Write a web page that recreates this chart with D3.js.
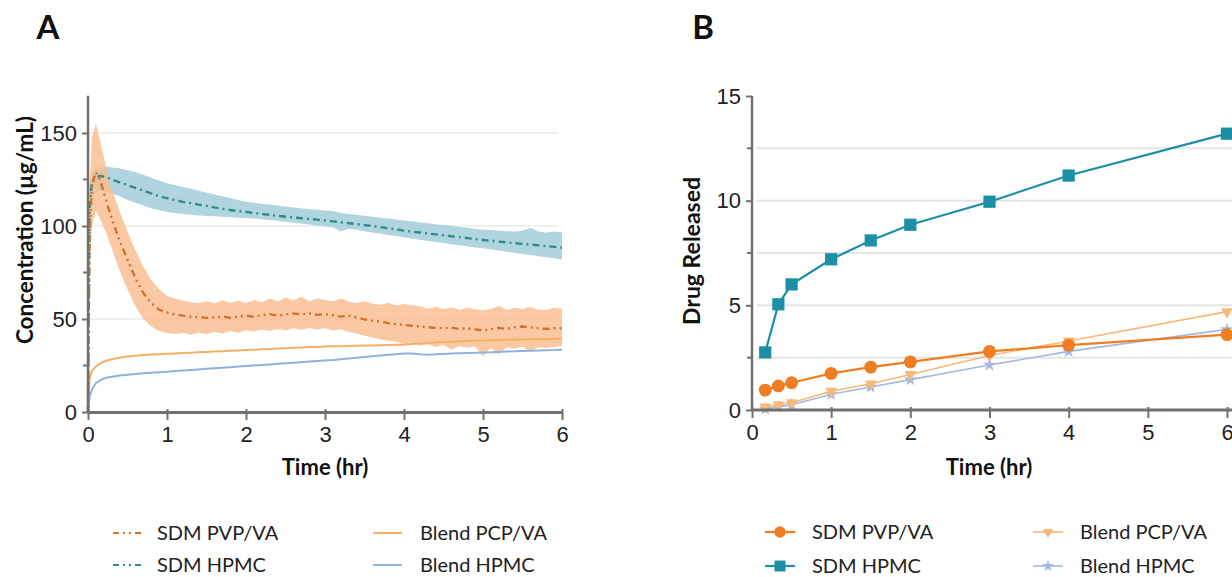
<!DOCTYPE html>
<html lang="en">
<head>
<meta charset="UTF-8">
<title>Concentration and drug release</title>
<script src="https://cdn.jsdelivr.net/npm/d3@7"></script>
<style>
  body { margin: 0; background: #fff; }
  svg { display: block; font-family: Lato, "Open Sans", sans-serif; }
  .tick text { font-size: 22px; fill: #222; font-weight: 300; }
  .axis path, .axis line { stroke: #707070; }
  .lbl { font-weight: bold; fill: #111; }
  .leg { font-size: 20px; fill: #222; }
</style>
</head>
<body>
<div id="chart"></div>
<script>
// ---------- panel A: concentration over time ----------
var timeA = [0, 0.02, 0.05, 0.1, 0.15, 0.2, 0.25, 0.3, 0.4, 0.5, 0.6, 0.7, 0.8, 0.9, 1.0,
  1.1, 1.2, 1.3, 1.4, 1.5, 1.6, 1.7, 1.8, 1.9, 2.0,
  2.1, 2.2, 2.3, 2.4, 2.5, 2.6, 2.7, 2.8, 2.9, 3.0,
  3.1, 3.2, 3.3, 3.4, 3.5, 3.6, 3.7, 3.8, 3.9, 4.0,
  4.1, 4.2, 4.3, 4.4, 4.5, 4.6, 4.7, 4.8, 4.9, 5.0,
  5.1, 5.2, 5.3, 5.4, 5.5, 5.6, 5.7, 5.8, 5.9, 6.0];

var sdmHpmcMean = [0, 110, 124, 126, 127, 126.5, 126, 125, 123.5, 122, 120.5, 119, 117.5, 116, 115,
  114, 113, 112.3, 111.5, 110.8, 110, 109.3, 108.6, 108, 107.5,
  107, 106.4, 106, 105.5, 105, 104.6, 104.2, 103.8, 103.4, 103,
  102.5, 102, 101.5, 101, 100.5, 100, 99.4, 98.8, 98.2, 97.5,
  97, 96.5, 96, 95.5, 95, 94.5, 94, 93.5, 93, 92.5,
  92, 91.6, 91.2, 90.8, 90.4, 90, 89.6, 89.2, 88.8, 88.3];
var sdmHpmcHi = [0, 122, 129, 131, 131.5, 132, 132, 131.5, 131, 130, 129, 127.5, 126, 124.5, 123,
  122, 121, 120, 119, 118, 117, 116, 115, 114, 113,
  112.5, 112, 111.5, 111, 110.5, 110, 109.5, 109, 108.7, 108.4,
  108, 107, 106.5, 106, 105.5, 105, 104.5, 104, 103.5, 103,
  102.5, 102, 101.5, 101, 100.5, 100, 99.5, 99, 98.5, 98,
  97.8, 97.5, 97.2, 97, 97.5, 99, 97, 96.5, 97, 96.5];
var sdmHpmcLo = [0, 96, 114, 118, 119.5, 119, 118.5, 117.5, 116, 114, 112.5, 111, 109.5, 108.5, 107.5,
  107, 106.5, 106, 105.7, 105.4, 105.2, 105, 104.8, 104.5, 104.3,
  104, 103.6, 103.2, 102.8, 102.3, 101.8, 101.3, 100.8, 100.3, 99.8,
  99.3, 97, 98.5, 98, 97.2, 96.5, 95.8, 95.2, 94.6, 94,
  93.3, 92.6, 92, 91.4, 90.8, 90.2, 89.6, 89, 88.5, 88,
  87.4, 86.8, 86.2, 85.6, 85, 84.4, 83.8, 83.2, 82.6, 82];

var sdmPvpMean = [0, 95, 122, 129, 125, 118, 111, 104, 92, 82, 72, 64, 58.5, 55, 53.5,
  52.5, 51.8, 51.2, 51, 50.6, 50.8, 51.5, 50.6, 51.3, 51.8,
  51.2, 52, 52.6, 51.8, 52.4, 53, 52.5, 53, 52.2, 52.6,
  52, 51.3, 51.8, 50.8, 49.8, 49, 48.6, 47.8, 47.2, 46.8,
  46.4, 46, 45.6, 45.2, 45, 45.4, 44.6, 45, 44.4, 43.8,
  44.5, 45.2, 44.6, 45.6, 46, 45.5, 45, 44.6, 45, 45];
var sdmPvpHi = [0, 120, 148, 155, 146, 137, 128, 120, 108, 97, 87, 78, 71, 66, 62.5,
  61, 60, 59, 58.5, 59.5, 58.5, 60, 58.8, 59.8, 58.6,
  60.2, 59, 61, 59.4, 61.5, 60, 62, 59.6, 61, 60.2,
  59.5, 61, 59.4, 58.5, 59.6, 58.2, 57.6, 58.8, 57.2, 58,
  57.4, 56.8, 55.5, 56.5, 55.4, 56.2, 55, 56, 55.2, 54.6,
  55.4, 57, 54.8, 56, 55.2, 56.5, 55, 54.8, 56, 55.5];
var sdmPvpLo = [0, 75, 100, 108, 104, 99, 94, 88, 76, 66, 57, 50, 46, 43.5, 42.5,
  42, 42.5, 41.5, 42.6, 41.8, 43, 42.2, 43.5, 42.6, 44,
  43.2, 44.4, 43.5, 44.6, 44, 45, 44.2, 45.2, 44.4, 45,
  43.8, 44.5, 43, 42.2, 41, 40, 39, 38.4, 37.8, 36.5,
  37.2, 35.8, 36.5, 35, 36, 33.5, 35.5, 34.6, 35.2, 30,
  34.6, 31, 35, 34, 35.2, 32, 35, 34.4, 35, 35.5];

var blendPvpA = [0, 18, 22, 24.5, 26, 27, 27.8, 28.4, 29.2, 29.8, 30.2, 30.6, 30.9, 31.1, 31.3,
  31.5, 31.7, 31.9, 32.1, 32.3, 32.5, 32.7, 32.9, 33.1, 33.3,
  33.5, 33.7, 33.9, 34.1, 34.3, 34.5, 34.7, 34.9, 35.0, 35.2,
  35.3, 35.4, 35.5, 35.6, 35.7, 35.8, 35.9, 36.0, 36.1, 36.2,
  36.5, 36.8, 37, 37.3, 37.6, 37.8, 38, 38.2, 38.4, 38.5,
  38.6, 38.7, 38.8, 38.9, 39, 39.1, 39.2, 39.3, 39.4, 39.5];
var blendHpmcA = [0, 8, 12, 15.5, 17, 18, 18.6, 19, 19.6, 20, 20.4, 20.8, 21.1, 21.4, 21.7,
  22, 22.3, 22.6, 22.9, 23.2, 23.5, 23.8, 24.1, 24.4, 24.7,
  25, 25.3, 25.6, 25.9, 26.2, 26.5, 26.8, 27.1, 27.4, 27.7,
  28, 28.4, 28.8, 29.2, 29.6, 30, 30.4, 30.8, 31.1, 31.4,
  31.5, 31.0, 30.8, 31, 31.2, 31.4, 31.6, 31.7, 31.8, 32,
  32.1, 32.3, 32.5, 32.6, 32.8, 32.9, 33, 33.2, 33.3, 33.5];

// ---------- panel B: drug released ----------
var timeB = [0.167, 0.333, 0.5, 1, 1.5, 2, 3, 4, 6];
var relSdmPvp = [0.95, 1.15, 1.3, 1.75, 2.05, 2.3, 2.8, 3.1, 3.6];
var relSdmHpmc = [2.75, 5.05, 6.0, 7.2, 8.1, 8.85, 9.95, 11.2, 13.2];
var relBlendPvp = [0.15, 0.25, 0.35, 0.9, 1.25, 1.7, 2.6, 3.3, 4.7];
var relBlendHpmc = [0.05, 0.15, 0.25, 0.75, 1.1, 1.45, 2.15, 2.8, 3.85];

var legendNames = ["SDM PVP/VA", "Blend PCP/VA", "SDM HPMC", "Blend HPMC"];

var W = 1232, H = 577;
var svg = d3.select("#chart").append("svg").attr("width", W).attr("height", H);

// colours
var cTealDash = "#2f8c86", cTealBand = "#a3cedb",
    cOrgDash = "#d4722a", cOrgBand = "#f9bb8c",
    cBlendPvp = "#f4b068", cBlendHpmc = "#8fb2dc";
var cB = { sdmPvp: "#ef7d22", sdmHpmc: "#1b8fa6", blendPvp: "#f8b877", blendHpmc: "#a3b9e0" };

// ================= Panel A =================
var xA = d3.scaleLinear().domain([0, 6]).range([88, 562]);
var yA = d3.scaleLinear().domain([0, 150]).range([412, 133]);
var gA = svg.append("g");

gA.selectAll(".gridA").data([50, 100, 150]).enter().append("line")
  .attr("x1", xA(0)).attr("x2", xA(5.95))
  .attr("y1", d => yA(d)).attr("y2", d => yA(d))
  .attr("stroke", "#efefef").attr("stroke-width", 2);

function band(hi, lo) {
  return d3.area().x((d, i) => xA(timeA[i])).y0((d, i) => yA(lo[i])).y1((d, i) => yA(hi[i]))(hi);
}
function lineA(vals) {
  return d3.line().x((d, i) => xA(timeA[i])).y(d => yA(d))(vals);
}

gA.append("path").attr("d", band(sdmHpmcHi, sdmHpmcLo)).attr("fill", cTealBand).attr("opacity", 0.85);
gA.append("path").attr("d", band(sdmPvpHi, sdmPvpLo)).attr("fill", cOrgBand).attr("opacity", 0.8);
gA.append("path").attr("d", lineA(blendPvpA)).attr("fill", "none").attr("stroke", cBlendPvp).attr("stroke-width", 2);
gA.append("path").attr("d", lineA(blendHpmcA)).attr("fill", "none").attr("stroke", cBlendHpmc).attr("stroke-width", 2);
gA.append("path").attr("d", lineA(sdmHpmcMean)).attr("fill", "none").attr("stroke", cTealDash)
  .attr("stroke-width", 2.4).attr("stroke-dasharray", "7,4,2,4");
gA.append("path").attr("d", lineA(sdmPvpMean)).attr("fill", "none").attr("stroke", cOrgDash)
  .attr("stroke-width", 2.4).attr("stroke-dasharray", "7,4,2,4,2,4");

// axes A
var axA_y = gA.append("g").attr("class", "axis").attr("transform", "translate(" + xA(0) + ",0)")
  .call(d3.axisLeft(yA).tickValues([0, 50, 100, 150]).tickSizeInner(6).tickSizeOuter(0).tickPadding(5));
axA_y.select(".domain").remove();
axA_y.selectAll(".tick line").attr("stroke-width", 2);
gA.selectAll(".minA").data([25, 75, 125]).enter().append("line")
  .attr("x1", xA(0) - 5).attr("x2", xA(0)).attr("y1", d => yA(d)).attr("y2", d => yA(d))
  .attr("stroke", "#707070").attr("stroke-width", 2);
gA.append("line").attr("x1", xA(0)).attr("x2", xA(0)).attr("y1", yA(0)).attr("y2", yA(170))
  .attr("stroke", "#707070").attr("stroke-width", 2.5);

var axA_x = gA.append("g").attr("class", "axis").attr("transform", "translate(0," + yA(0) + ")")
  .call(d3.axisBottom(xA).ticks(6).tickSizeInner(8).tickSizeOuter(0).tickPadding(6));
axA_x.select(".domain").attr("stroke-width", 3);
axA_x.selectAll(".tick line").attr("y1", -3).attr("stroke-width", 2);

svg.append("text").attr("class", "lbl").attr("x", 48).attr("y", 39).attr("text-anchor", "middle")
  .style("font-size", "33px").text("A");
svg.append("text").attr("class", "lbl").attr("x", 325).attr("y", 475).attr("text-anchor", "middle")
  .style("font-size", "22px").text("Time (hr)");
svg.append("text").attr("class", "lbl").attr("transform", "translate(33,230) rotate(-90)")
  .attr("text-anchor", "middle").style("font-size", "22.5px").text("Concentration (µg/mL)");

// legend A
var legA = [
  { name: legendNames[0], x: 113, y: 533, color: cOrgDash, dash: "6,4,2,4,2,4", w: 2 },
  { name: legendNames[1], x: 373, y: 533, color: cBlendPvp, dash: null, w: 2 },
  { name: legendNames[2], x: 113, y: 565, color: cTealDash, dash: "6,4,2,4,2,4", w: 2 },
  { name: legendNames[3], x: 373, y: 565, color: cBlendHpmc, dash: null, w: 2 }
];
var lA = svg.selectAll(".legA").data(legA).enter().append("g")
  .attr("transform", d => "translate(" + d.x + "," + d.y + ")");
lA.append("line").attr("x1", 0).attr("x2", 29).attr("stroke", d => d.color)
  .attr("stroke-width", d => d.w).attr("stroke-dasharray", d => d.dash);
lA.append("text").attr("class", "leg").attr("x", d => d.name.startsWith("SDM") ? 44 : 47)
  .attr("dy", "0.36em").text(d => d.name);

// ================= Panel B =================
var xB = d3.scaleLinear().domain([0, 6]).range([752, 1227]);
var yB = d3.scaleLinear().domain([0, 15]).range([410, 96]);
var gB = svg.append("g");

gB.selectAll(".gridB").data([2.5, 5, 7.5, 10, 12.5]).enter().append("line")
  .attr("x1", xB(0.06)).attr("x2", W)
  .attr("y1", d => yB(d)).attr("y2", d => yB(d))
  .attr("stroke", "#e4e4e4").attr("stroke-width", 2);

var seriesB = [
  { key: "blendHpmc", vals: relBlendHpmc, color: cB.blendHpmc, sym: d3.symbolStar, size: 55, w: 1.6, rot: 0 },
  { key: "blendPvp", vals: relBlendPvp, color: cB.blendPvp, sym: d3.symbolTriangle, size: 60, w: 1.6, rot: 180 },
  { key: "sdmPvp", vals: relSdmPvp, color: cB.sdmPvp, sym: d3.symbolCircle, size: 130, w: 2.2, rot: 0 },
  { key: "sdmHpmc", vals: relSdmHpmc, color: cB.sdmHpmc, sym: d3.symbolSquare, size: 150, w: 2.2, rot: 0 }
];
var lineB = d3.line().x((d, i) => xB(timeB[i])).y(d => yB(d));
seriesB.forEach(function (s) {
  gB.append("path").attr("d", lineB(s.vals)).attr("fill", "none")
    .attr("stroke", s.color).attr("stroke-width", s.w);
  gB.selectAll(".pt-" + s.key).data(s.vals).enter().append("path")
    .attr("d", d3.symbol().type(s.sym).size(s.size))
    .attr("transform", (d, i) => "translate(" + xB(timeB[i]) + "," + yB(d) + ") rotate(" + s.rot + ")")
    .attr("fill", s.color);
});

var axB_y = gB.append("g").attr("class", "axis").attr("transform", "translate(" + xB(0) + ",0)")
  .call(d3.axisLeft(yB).tickValues([0, 5, 10, 15]).tickSizeInner(6).tickSizeOuter(0).tickPadding(5));
axB_y.select(".domain").remove();
axB_y.selectAll(".tick line").attr("stroke-width", 2);
gB.selectAll(".minB").data([2.5, 7.5, 12.5]).enter().append("line")
  .attr("x1", xB(0) - 5).attr("x2", xB(0)).attr("y1", d => yB(d)).attr("y2", d => yB(d))
  .attr("stroke", "#707070").attr("stroke-width", 2);
gB.append("line").attr("x1", xB(0)).attr("x2", xB(0)).attr("y1", yB(0)).attr("y2", yB(15))
  .attr("stroke", "#707070").attr("stroke-width", 2.5);

var axB_x = gB.append("g").attr("class", "axis").attr("transform", "translate(0," + yB(0) + ")")
  .call(d3.axisBottom(xB).ticks(6).tickSizeInner(8).tickSizeOuter(0).tickPadding(6));
axB_x.select(".domain").attr("stroke-width", 3).attr("d", "M" + xB(0) + ",0H" + W);
axB_x.selectAll(".tick line").attr("y1", -3).attr("stroke-width", 2);

svg.append("text").attr("class", "lbl").attr("x", 703).attr("y", 39).attr("text-anchor", "middle")
  .style("font-size", "33px").text("B");
svg.append("text").attr("class", "lbl").attr("x", 989).attr("y", 475).attr("text-anchor", "middle")
  .style("font-size", "22px").text("Time (hr)");
svg.append("text").attr("class", "lbl").attr("transform", "translate(700,251) rotate(-90)")
  .attr("text-anchor", "middle").style("font-size", "23px").text("Drug Released");

// legend B
var legB = [
  { name: legendNames[0], x: 765, y: 532, s: seriesB[2] },
  { name: legendNames[1], x: 1033, y: 532, s: seriesB[1] },
  { name: legendNames[2], x: 765, y: 566, s: seriesB[3] },
  { name: legendNames[3], x: 1033, y: 566, s: seriesB[0] }
];
var lB = svg.selectAll(".legB").data(legB).enter().append("g")
  .attr("transform", d => "translate(" + d.x + "," + d.y + ")");
lB.append("line").attr("x1", 0).attr("x2", 30).attr("stroke", d => d.s.color).attr("stroke-width", d => d.s.w);
lB.append("path").attr("d", d => d3.symbol().type(d.s.sym).size(d.s.size * 0.8)())
  .attr("transform", d => "translate(15,0) rotate(" + d.s.rot + ")").attr("fill", d => d.s.color);
lB.append("text").attr("class", "leg").attr("x", 47).attr("dy", "0.36em").text(d => d.name);
</script>
</body>
</html>
